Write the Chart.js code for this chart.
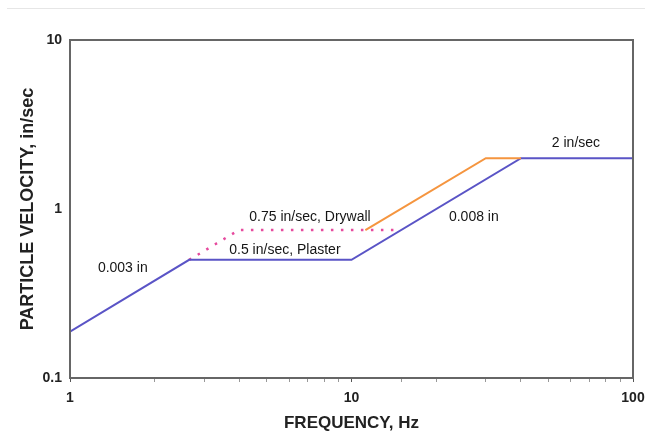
<!DOCTYPE html>
<html>
<head>
<meta charset="utf-8">
<script src="https://cdn.jsdelivr.net/npm/chart.js@4/dist/chart.umd.min.js"></script>
<style>
  html, body { margin: 0; padding: 0; background: #ffffff; }
  #wrap { width: 645px; height: 434px; }
</style>
</head>
<body>
<div id="wrap"><canvas id="c" width="645" height="434"></canvas></div>
<script>
// ---- Data (frequency in Hz, particle velocity in in/sec) ----
const plasterFreq = [1, 2.65, 10, 40, 100];
const plasterVel  = [0.188, 0.5, 0.5, 2, 2];

const drywallFreq = [2.65, 3.98, 14.9];
const drywallVel  = [0.5, 0.75, 0.75];

const orangeFreq = [11.2, 30, 40];
const orangeVel  = [0.75, 2, 2];

const xTickLabels = [1, 10, 100];
const yTickLabels = [0.1, 1, 10];

const noteTexts = ['0.003 in', '0.75 in/sec, Drywall', '0.5 in/sec, Plaster', '0.008 in', '2 in/sec'];
const noteFreqs = [1.54, 7.12, 5.80, 27.2, 62.7];
const noteVels  = [0.448, 0.897, 0.571, 0.897, 2.46];

const toPts = (xs, ys) => xs.map((x, i) => ({ x: x, y: ys[i] }));
const isDecade = v => Math.abs(Math.log10(v) - Math.round(Math.log10(v))) < 1e-6;

const FONT = "'Liberation Sans', Arial, sans-serif";

const framePlugin = {
  id: 'frame',
  beforeDraw(chart) {
    const ctx = chart.ctx;
    ctx.save();
    ctx.fillStyle = '#ffffff';
    ctx.fillRect(0, 0, chart.width, chart.height);
    ctx.strokeStyle = '#e6e6e6';
    ctx.lineWidth = 1;
    ctx.beginPath();
    ctx.moveTo(7, 8.5);
    ctx.lineTo(chart.width, 8.5);
    ctx.stroke();
    ctx.restore();
  },
  afterDraw(chart) {
    const { left, right, top, bottom } = chart.chartArea;
    const ctx = chart.ctx;
    ctx.save();
    ctx.strokeStyle = '#666666';
    ctx.lineWidth = 2;
    ctx.strokeRect(left, top, right - left, bottom - top);
    ctx.restore();
  }
};

const notesPlugin = {
  id: 'notes',
  afterDatasetsDraw(chart) {
    const ctx = chart.ctx;
    const xs = chart.scales.x, ys = chart.scales.y;
    ctx.save();
    ctx.font = '14px ' + FONT;
    ctx.fillStyle = '#151515';
    ctx.textAlign = 'center';
    ctx.textBaseline = 'middle';
    noteTexts.forEach((t, i) => {
      ctx.fillText(t, xs.getPixelForValue(noteFreqs[i]), ys.getPixelForValue(noteVels[i]));
    });
    ctx.restore();
  }
};

new Chart(document.getElementById('c'), {
  type: 'scatter',
  data: {
    datasets: [
      {
        label: 'Drywall (dotted)',
        data: toPts(drywallFreq, drywallVel),
        showLine: true,
        borderColor: '#e64a9e',
        borderWidth: 2.5,
        borderDash: [2.5, 7.5],
        pointRadius: 0,
        fill: false,
        order: 3
      },
      {
        label: 'Plaster',
        data: toPts(plasterFreq, plasterVel),
        showLine: true,
        borderColor: '#5a54c6',
        borderWidth: 2,
        pointRadius: 0,
        fill: false,
        order: 2
      },
      {
        label: 'Drywall',
        data: toPts(orangeFreq, orangeVel),
        showLine: true,
        borderColor: '#f5953f',
        borderWidth: 2,
        pointRadius: 0,
        fill: false,
        order: 1
      }
    ]
  },
  options: {
    responsive: false,
    animation: false,
    layout: { padding: { top: 40, right: 0, left: 0, bottom: 0 } },
    plugins: { legend: { display: false }, tooltip: { enabled: false } },
    scales: {
      x: {
        type: 'logarithmic',
        min: 1,
        max: 100,
        afterFit(s) { s.height = 56; s.paddingRight = 12; },
        border: { display: false },
        grid: {
          drawOnChartArea: false,
          drawTicks: true,
          tickLength: 4,
          color: ctx => (ctx.tick && isDecade(ctx.tick.value)) ? '#555555' : '#999999'
        },
        ticks: {
          autoSkip: false,
          maxRotation: 0,
          padding: 8,
          color: '#222222',
          font: { family: FONT, size: 14, weight: 'bold' },
          callback: v => (xTickLabels.some(t => Math.abs(t - v) < 1e-9) ? String(v) : '')
        },
        title: {
          display: true,
          text: 'FREQUENCY, Hz',
          color: '#222222',
          font: { family: FONT, size: 17, weight: 'bold' },
          padding: { top: 0, bottom: 0 }
        }
      },
      y: {
        type: 'logarithmic',
        min: 0.1,
        max: 10,
        afterFit(s) { s.width = 70; },
        border: { display: false },
        grid: { display: false, drawTicks: false },
        ticks: {
          autoSkip: false,
          padding: 8,
          color: '#222222',
          font: { family: FONT, size: 14, weight: 'bold' },
          callback: v => (yTickLabels.some(t => Math.abs(t - v) < 1e-9) ? String(v) : '')
        },
        title: {
          display: true,
          text: 'PARTICLE VELOCITY, in/sec',
          color: '#222222',
          font: { family: FONT, size: 18, weight: 'bold' },
          padding: { top: 17, bottom: 0 }
        }
      }
    }
  },
  plugins: [framePlugin, notesPlugin]
});
</script>
</body>
</html>
